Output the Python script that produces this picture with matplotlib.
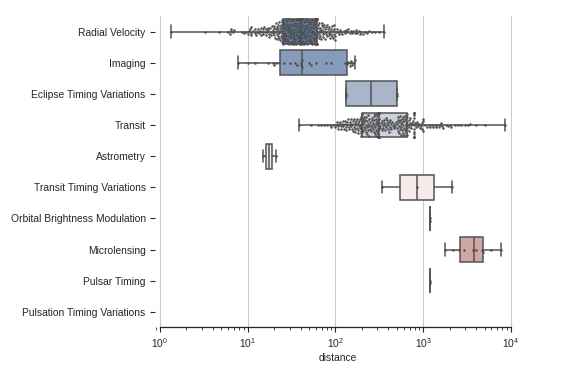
import numpy as np
import pandas as pd
import seaborn as sns
from matplotlib import pyplot as plt

# categories, top to bottom
methods = ["Radial Velocity", "Imaging", "Eclipse Timing Variations", "Transit",
           "Astrometry", "Transit Timing Variations", "Orbital Brightness Modulation",
           "Microlensing", "Pulsar Timing", "Pulsation Timing Variations"]

# distances (pc)
radial_velocity = [
    1.35, 3.22, 4.7, 6.0, 6.27, 6.4, 6.5, 6.8, 7.0, 8.5, 9.0, 9.6,
    10.0, 10.3, 10.5, 10.9, 11.0, 11.0, 11.5, 12.0, 12.1, 12.5, 12.8, 13.0, 13.5, 13.8, 14.0,
    14.1, 14.6, 14.9, 15.1, 15.3, 15.6, 16.0, 16.1, 16.6, 16.9, 17.2, 17.4, 17.6, 18.0, 18.2,
    18.5, 18.8, 19.2, 19.3, 19.8,
    20.0, 20.1, 20.4, 20.5, 20.8, 21.0, 21.3, 21.4, 21.6, 21.9, 22.0, 22.1, 22.4, 22.6, 22.9,
    23.0, 23.1, 23.4, 23.5, 23.8, 24.0, 24.1, 24.3, 24.5, 24.6, 24.8, 24.9, 25.0,
    25.2, 25.4, 25.6, 25.8, 26.0, 26.2, 26.3, 26.5, 26.7, 26.9, 27.0, 27.2, 27.5, 27.6, 27.9,
    28.0, 28.1, 28.3, 28.5, 28.7, 28.9, 29.1, 29.3, 29.5, 29.6, 29.9, 30.0, 30.2, 30.5, 30.7,
    30.9, 31.1, 31.3, 31.5, 31.8, 32.0, 32.2, 32.4, 32.6, 32.9, 33.0, 33.2, 33.5, 33.8, 34.0,
    34.1, 34.4, 34.6, 34.9, 35.0, 35.2, 35.5, 35.7, 35.9, 36.0, 36.3, 36.5, 36.8, 37.0, 37.2,
    37.5, 37.6, 37.9, 38.0, 38.3, 38.5, 38.7, 38.9, 39.1, 39.4, 39.5, 39.6, 39.8, 39.9, 40.0,
    40.2, 40.5, 40.6, 40.9, 41.0, 41.3, 41.5, 41.8, 42.0, 42.2, 42.5, 42.8, 43.0, 43.3, 43.5,
    43.9, 44.0, 44.3, 44.6, 45.0, 45.2, 45.5, 45.9, 46.0, 46.4, 46.7, 47.0, 47.3, 47.6, 48.0,
    48.3, 48.6, 49.0, 49.2, 49.6, 50.0, 50.3, 50.6, 51.0, 51.3, 51.7, 52.0, 52.4, 52.8, 53.0,
    53.3, 53.7, 54.0, 54.3, 54.7, 55.0, 55.4, 55.8, 56.0, 56.4, 56.8, 57.1, 57.5, 57.8, 58.0,
    58.3, 58.7, 59.0, 59.2, 59.5, 59.8, 60.0, 60.2, 60.4, 60.6, 60.7, 60.8, 60.9, 61.0, 61.0,
    61.5, 62.0, 62.6, 63.0, 63.7, 64.2, 65.0, 65.5, 66.0, 66.9, 67.5, 68.0, 68.8, 69.5, 70.0,
    71.0, 71.5, 72.3, 73.0, 74.0, 74.5, 75.5, 76.0, 77.0, 78.0, 79.0, 80.0, 81.0, 82.0, 83.5,
    84.0, 85.5, 86.0, 87.5, 89.0, 90.0, 91.5, 92.0, 93.5, 94.0, 95.5, 96.0, 97.5, 98.5, 99.5,
    101, 104, 108, 110, 113, 117, 120, 124, 128, 132, 137, 140, 145, 150, 155, 160, 167, 172,
    178, 185, 190, 198,
    205, 215, 228, 240, 262, 285, 310, 354]

imaging = [7.69, 10.0, 12.0, 17.0, 19.2, 20.0, 21.0, 22.5, 26.0, 30.0, 35.0, 36.0, 40.0,
           40.5, 41.2, 42.0, 50.0, 52.0, 60.0, 78.0, 90.0, 130.0, 137.0, 140.0, 145.0,
           148.0, 150.0, 155.0, 160.0, 165.0]

eclipse_timing = [130.72, 130.72, 500.0, 500.0]

transit = [
    38.7, 52, 63, 68, 75, 80, 86, 90, 94, 98,
    101, 104, 106, 108, 110, 112, 115, 117, 119, 121, 123, 125, 127, 129, 131,
    133, 135, 137, 139, 141, 143, 145, 147, 149, 151, 153, 155, 157, 159, 161,
    163, 165, 167, 169, 171, 173, 175, 177, 179, 181, 183, 185, 187, 189, 191,
    193, 194, 195, 196, 197, 198, 199,
    200, 202, 204, 206, 208, 210, 212, 214, 216, 218, 220, 222, 224, 226, 228,
    230, 232, 234, 236, 238, 240, 243, 246, 249, 252, 255, 258, 261, 264, 267,
    270, 272, 274, 276, 278, 280, 282, 284, 286, 288, 290, 292, 294, 296, 298,
    300, 301, 302, 303, 304, 305, 306, 307, 308, 309, 310, 311, 312, 313, 314,
    314, 315, 315,
    320, 325, 330, 335, 340, 345, 350, 355, 360, 365, 370, 375, 380, 385, 390,
    395, 400, 405, 410, 415, 420, 425, 430, 440, 450, 460, 470, 480, 490, 500,
    505, 510, 515, 520, 525, 530, 535, 540, 545, 550, 555, 560, 565, 570, 575,
    580, 585, 590, 595, 600, 605, 610, 615, 620, 625, 630, 635, 640, 645, 650,
    655, 658, 660,
    670, 680, 690, 690, 700, 710, 720, 735, 750, 760,
    780, 780, 780, 780, 780, 780, 780, 780, 780, 780, 780, 780,
    800, 820, 840, 860, 880, 900, 920, 940, 960, 980, 995, 1000, 1000,
    1050, 1100, 1150, 1200, 1250, 1300, 1350, 1400, 1450, 1500,
    1550, 1600, 1650, 1700, 1800, 1900, 2000, 2100, 2300, 2500,
    2700, 3000, 3200, 3400, 4000, 5000, 8500]

astrometry = [14.98, 20.77]
ttv = [339.9, 850.0, 2119.0]
obm = [1180.0, 1180.0]
microlensing = [1750, 2200, 2550, 2900, 3700, 3980, 4700, 4820, 6000, 7720]
pulsar_timing = [1200.0, 1200.0]
pulsation_timing = []

values = [radial_velocity, imaging, eclipse_timing, transit, astrometry, ttv, obm,
          microlensing, pulsar_timing, pulsation_timing]

planets = pd.DataFrame({
    "method": [m for m, v in zip(methods, values) for _ in v],
    "distance": [d for v in values for d in v],
})

sns.set_theme(style="ticks")
plt.rcParams["font.family"] = ["Liberation Sans", "DejaVu Sans"]
plt.rcParams["mathtext.default"] = "regular"
plt.rcParams["font.size"] = 7.4

f, ax = plt.subplots(figsize=(5.7, 3.67), dpi=100)
f.subplots_adjust(left=0.2714, right=0.9149, bottom=0.108, top=0.9564)
ax.set_xscale("log")

sns.boxplot(data=planets, x="distance", y="method", hue="method", order=methods,
            hue_order=methods, whis=[0, 100], width=0.8, palette="vlag",
            linewidth=1.1, fliersize=0, legend=False, ax=ax)
sns.swarmplot(data=planets, x="distance", y="method", order=methods,
              size=1.8, color=".3", linewidth=0, ax=ax)

ax.set_xlim(10 ** -0.06, 10 ** 4.12)
ax.set_ylim(9.5, -0.5)
ax.xaxis.grid(True, color=".8", linewidth=0.8)
ax.set(ylabel="")
ax.set_xlabel("distance", fontsize=7.4, labelpad=2)
ax.tick_params(axis="both", labelsize=7.4, length=3.5, width=0.8, pad=3)
ax.tick_params(axis="x", which="minor", length=2, width=0.6)
sns.despine(trim=True, left=True)
for s in ax.spines.values():
    s.set_linewidth(0.9)

plt.savefig("out.png", dpi=100)
